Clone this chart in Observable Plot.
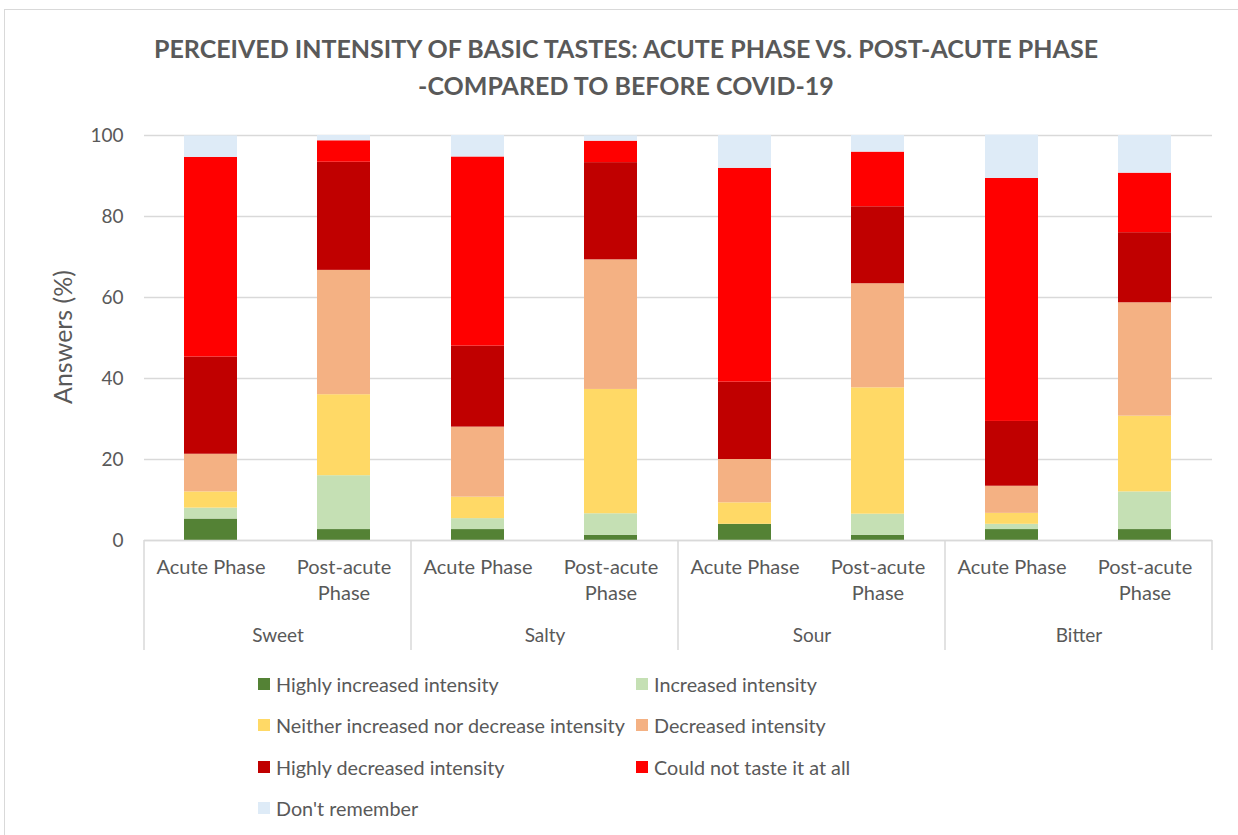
<!DOCTYPE html>
<html><head><meta charset="utf-8">
<script src="https://cdn.jsdelivr.net/npm/d3@7"></script>
<script src="https://cdn.jsdelivr.net/npm/@observablehq/plot@0.6"></script>
<style>
body{margin:0;overflow:hidden;background:#fff;font-family:Lato,"Open Sans",sans-serif;}
#wrap{position:relative;width:1238px;height:835px;overflow:hidden;}
#border{position:absolute;left:4px;top:9px;width:1300px;height:900px;border:1.5px solid #d9d9d9;box-sizing:border-box;}
#title{position:absolute;left:0;width:1252px;top:30px;text-align:center;font-weight:bold;font-size:25px;line-height:37px;color:#595959;}
#chart{position:absolute;left:0;top:100px;}
#ylabel{position:absolute;left:62px;top:337px;transform:translate(-50%,-50%) rotate(-90deg);font-size:25px;color:#595959;white-space:nowrap;}
.lg{position:absolute;font-size:19.8px;color:#595959;white-space:nowrap;display:flex;align-items:center;transform:translateY(-50%);}
.lg span.sw{display:inline-block;width:12px;height:12px;margin-right:6px;}
</style>
</head><body>
<div id="wrap">
  <div id="border"></div>
  <div id="title">PERCEIVED INTENSITY OF BASIC TASTES: ACUTE PHASE VS. POST-ACUTE PHASE<br>-COMPARED TO BEFORE COVID-19</div>
  <div id="ylabel">Answers (%)</div>
  <div id="chart"></div>
  <div id="legend"></div>
</div>
<script>
const tastes = ["Sweet", "Salty", "Sour", "Bitter"];
const phases = ["Acute Phase", "Post-acute Phase"];
const categories = [
  "Highly increased intensity",
  "Increased intensity",
  "Neither increased nor decrease intensity",
  "Decreased intensity",
  "Highly decreased intensity",
  "Could not taste it at all",
  "Don't remember"
];
const colors = ["#548235", "#C5E0B4", "#FFD966", "#F4B183", "#C00000", "#FF0000", "#DEEBF7"];
const yTicks = [0, 20, 40, 60, 80, 100];

// order of values: Sweet Acute, Sweet Post, Salty Acute, Salty Post, Sour Acute, Sour Post, Bitter Acute, Bitter Post
const highlyIncreased = [5.3, 2.7, 2.7, 1.3, 4.0, 1.3, 2.7, 2.7];
const increased       = [2.7, 13.3, 2.7, 5.3, 0.0, 5.2, 1.3, 9.3];
const neither         = [4.0, 20.0, 5.3, 30.7, 5.3, 31.2, 2.7, 18.7];
const decreased       = [9.3, 30.7, 17.3, 32.0, 10.7, 25.7, 6.7, 28.0];
const highlyDecreased = [24.0, 26.7, 20.0, 24.0, 19.1, 19.0, 16.0, 17.3];
const couldNot        = [49.3, 5.3, 46.7, 5.3, 52.8, 13.5, 60.0, 14.7];
const dontRemember    = [5.3, 1.3, 5.3, 1.3, 8.1, 4.1, 10.7, 9.3];

const series = [highlyIncreased, increased, neither, decreased, highlyDecreased, couldNot, dontRemember];
const rows = [];
series.forEach((vals, ci) => vals.forEach((v, k) => rows.push({
  taste: tastes[Math.floor(k / 2)], phase: phases[k % 2], category: categories[ci], value: v
})));

const W = 1238, H = 560;
const plot = Plot.plot({
  width: W, height: H,
  marginTop: 35, marginBottom: 120, marginLeft: 142, marginRight: 25,
  style: {fontFamily: "Lato, 'Open Sans', sans-serif", fontSize: "19px", color: "#595959", background: "transparent", overflow: "visible"},
  fx: {domain: tastes, padding: 0, label: null, axis: null},
  x: {domain: phases, paddingInner: 0.6, paddingOuter: 0.3, axis: null},
  y: {domain: [0, 100], axis: null},
  color: {domain: categories, range: colors},
  marks: [
    Plot.gridY(yTicks, {stroke: "#d9d9d9", strokeOpacity: 1, strokeWidth: 1.5}),
    Plot.axisY(yTicks, {tickSize: 0, tickPadding: 21, fontSize: 19, label: null}),
    Plot.barY(rows, {fx: "taste", x: "phase", y: "value", fill: "category"}),
    Plot.ruleY([0], {stroke: "#d9d9d9", strokeWidth: 1.5}),
    Plot.axisX({tickSize: 0, tickPadding: 15, fontSize: 20, lineHeight: 1.3, label: null,
      tickFormat: d => d.replace("Post-acute ", "Post-acute\n")}),
    Plot.axisFx({anchor: "bottom", tickSize: 0, tickPadding: 88, fontSize: 19, label: null})
  ]
});
document.getElementById("chart").appendChild(plot);

// group separators below the axis
const svg = d3.select(plot);
let bounds = [];
try {
  const fx = plot.scale("fx");
  bounds = tastes.map(t => fx.apply(t));
  bounds.push(fx.apply(tastes[tastes.length - 1]) + fx.bandwidth);
} catch (e) {
  const step = (W - 142 - 25) / tastes.length;
  bounds = d3.range(tastes.length + 1).map(i => 142 + i * step);
}
const y0 = plot.scale("y").apply(0);
svg.append("g").selectAll("line").data(bounds).join("line")
  .attr("x1", d => d).attr("x2", d => d)
  .attr("y1", y0).attr("y2", H - 10)
  .attr("stroke", "#d9d9d9").attr("stroke-width", 1.5);

// legend
const legend = document.getElementById("legend");
categories.forEach((c, i) => {
  const col = i % 2, row = Math.floor(i / 2);
  const el = document.createElement("div");
  el.className = "lg";
  el.style.left = (col === 0 ? 258 : 636) + "px";
  el.style.top = (684 + row * 41.3) + "px";
  el.innerHTML = `<span class="sw" style="background:${colors[i]}"></span>`;
  el.appendChild(document.createTextNode(c));
  legend.appendChild(el);
});
</script>
</body></html>
